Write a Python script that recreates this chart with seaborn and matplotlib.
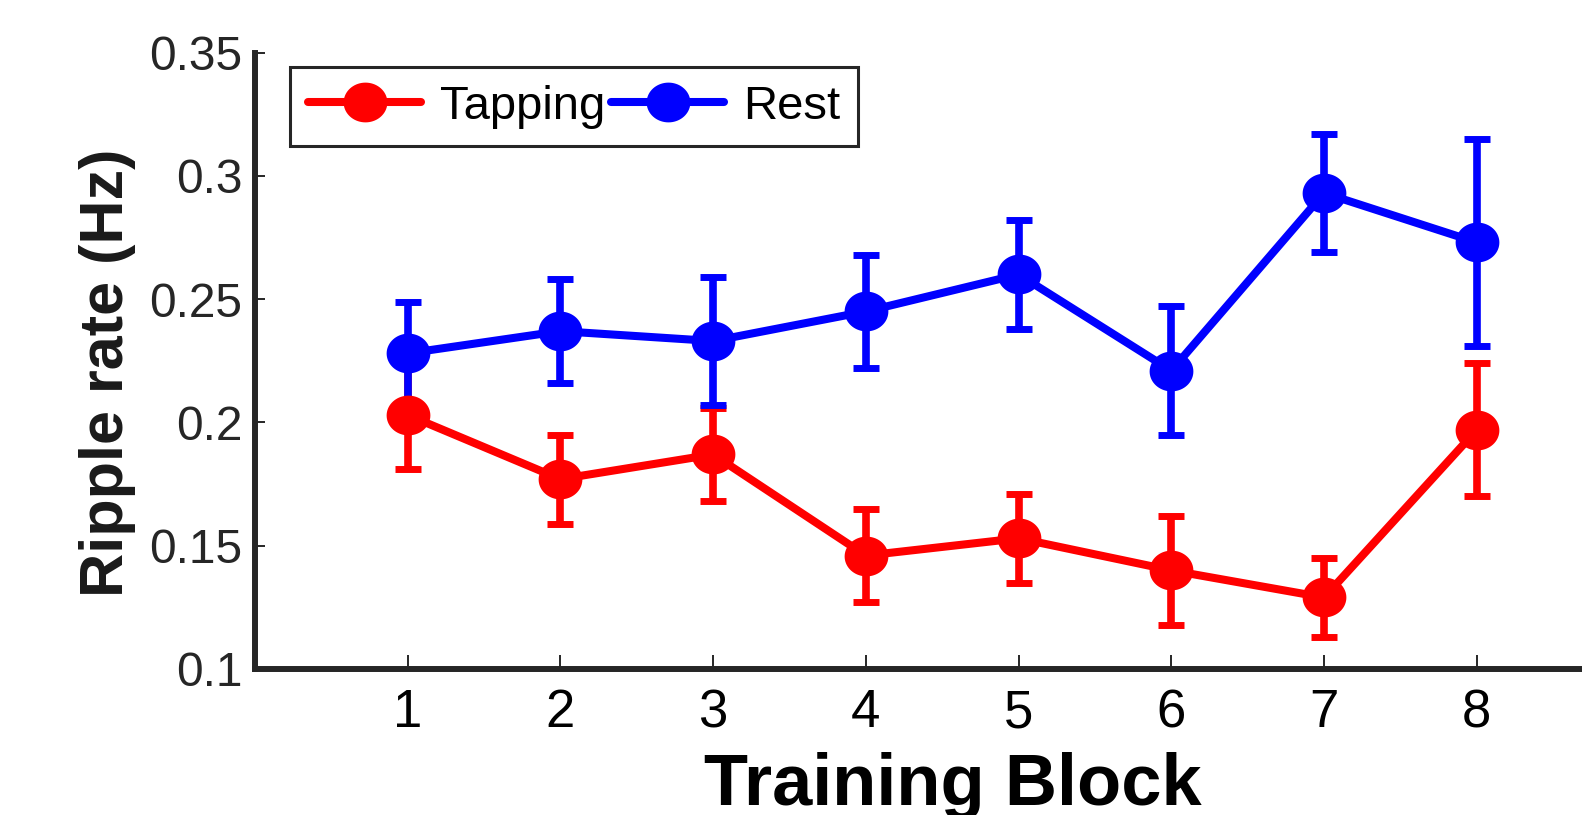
import numpy as np
import pandas as pd
import matplotlib
matplotlib.use("Agg")
import matplotlib.pyplot as plt
from matplotlib.path import Path
from matplotlib.lines import Line2D
import seaborn as sns

# Ripple rate per training block (mean and s.e.m.)
blocks = [1, 2, 3, 4, 5, 6, 7, 8]
tapping_mean = [0.203, 0.177, 0.187, 0.146, 0.153, 0.140, 0.129, 0.197]
tapping_err = [0.022, 0.018, 0.019, 0.019, 0.018, 0.022, 0.016, 0.027]
rest_mean = [0.228, 0.237, 0.233, 0.245, 0.260, 0.221, 0.293, 0.273]
rest_err = [0.021, 0.021, 0.026, 0.023, 0.022, 0.026, 0.024, 0.042]
conditions = ["Tapping", "Rest"]
colors = {"Tapping": "#ff0000", "Rest": "#0000ff"}
y_ticks = [0.1, 0.15, 0.2, 0.25, 0.3, 0.35]
y_tick_labels = ["0.1", "0.15", "0.2", "0.25", "0.3", "0.35"]

df = pd.DataFrame({
    "block": blocks * 2,
    "rate": tapping_mean + rest_mean,
    "err": tapping_err + rest_err,
    "condition": ["Tapping"] * len(blocks) + ["Rest"] * len(blocks),
})

sns.set_theme(style="ticks")
plt.rcParams["font.family"] = ["Liberation Sans", "DejaVu Sans"]

# slightly wide elliptical marker
t = np.linspace(0, 2 * np.pi, 73)
ellipse = Path(np.column_stack([1.1 * np.cos(t), np.sin(t)]), closed=True)

W, H = 1582, 815
fig = plt.figure(figsize=(W / 100, H / 100), dpi=100)
ax_left, ax_bottom = 254.85, 669.0
ax_w, ax_h = 1374.75, 616.5
ax = fig.add_axes([ax_left / W, (H - ax_bottom) / H, ax_w / W, ax_h / H])

lw = 5.8
msize = 31.5
for cond in conditions:
    sub = df[df["condition"] == cond]
    ax.errorbar(sub["block"], sub["rate"], yerr=sub["err"], fmt="none",
                ecolor=colors[cond], elinewidth=5.5, capsize=9.7, capthick=5.0,
                zorder=2)

sns.lineplot(data=df, x="block", y="rate", hue="condition", palette=colors,
             hue_order=conditions, marker=ellipse, markersize=msize,
             markeredgewidth=0, linewidth=lw, ax=ax, zorder=3, legend=False)

ax.set_xlim(0, 9)
ax.set_ylim(0.1, 0.35)
ax.set_xticks(blocks)
ax.set_xticklabels([str(b) for b in blocks])
ax.set_yticks(y_ticks)
ax.set_yticklabels(y_tick_labels)

for side in ["top", "right"]:
    ax.spines[side].set_visible(False)
for side in ["left", "bottom"]:
    ax.spines[side].set_linewidth(4.3)
    ax.spines[side].set_color("#262626")
    ax.spines[side].set_capstyle("projecting")

ax.tick_params(axis="y", direction="in", length=7, width=1.4,
               colors="#262626", labelsize=34.5, pad=9)
ax.tick_params(axis="x", direction="in", length=10, width=1.4,
               colors="#262626", labelsize=38, pad=14, labelcolor="black")

ax.set_xlabel("Training Block", fontsize=52, fontweight="bold", color="black")
ax.xaxis.set_label_coords((953 - ax_left) / ax_w, -(805 - ax_bottom) / ax_h)
ax.xaxis.label.set_va("baseline")

ax.set_ylabel("Ripple rate (Hz)", fontsize=44, fontweight="bold", color="#1a1a1a")
ax.yaxis.set_label_coords((136 - ax_left) / ax_w, (ax_bottom - 373) / ax_h)
ax.yaxis.label.set_va("bottom")

handles = [Line2D([], [], color=colors[c], linewidth=lw, marker=ellipse,
                  markersize=msize, markeredgewidth=0) for c in conditions]
leg = ax.legend(handles, conditions, loc="upper left",
                bbox_to_anchor=((290 - ax_left) / ax_w, (ax_bottom - 66.6) / ax_h),
                borderaxespad=0, ncol=2, fontsize=34, handlelength=2.4,
                handletextpad=0.4, columnspacing=0.12, borderpad=0.38,
                fancybox=False, framealpha=1, edgecolor="#262626")
leg.get_frame().set_linewidth(2.2)
for txt in leg.get_texts():
    txt.set_color("black")

fig.savefig("out.png", dpi=100)
